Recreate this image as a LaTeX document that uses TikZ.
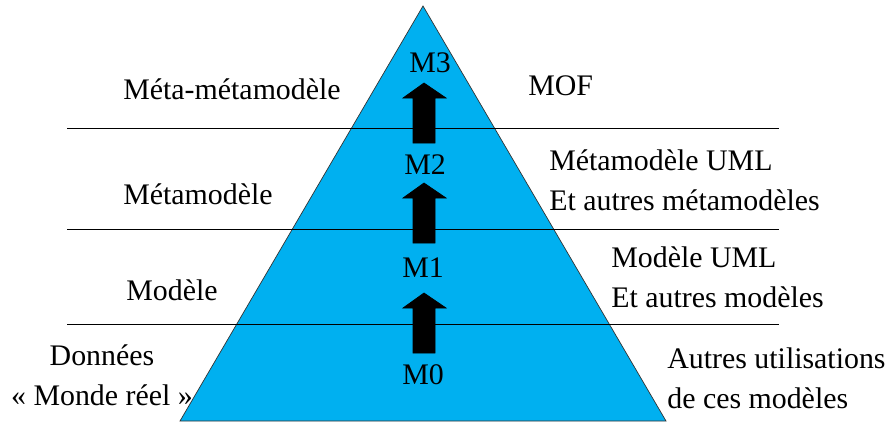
\documentclass[tikz,border=0pt]{standalone}
\usepackage{fontspec}
\setmainfont{Liberation Serif}
\usetikzlibrary{positioning}
\tikzstyle{pyramid} = [x = 0.02cm, y = -0.02cm]
\definecolor{levelColor}{RGB}{0,176,240}
\tikzstyle{levelFill} = [fill=levelColor, draw=black!80, thin]
\tikzstyle{levelLine} = [color=black, thin]
\tikzstyle{levelArrow} = [fill=black, draw=black]
\tikzstyle{levelText} = [font=\fontsize{17}{23}\selectfont, inner sep=0pt]
\tikzstyle{sideText} = [levelText, align=left, anchor=west]
\newcommand{\blockArrow}[1]{\filldraw [levelArrow] (424,#1) -- (446,#1 + 15) -- (435,#1 + 15) -- (435,#1 + 60) -- (413,#1 + 60) -- (413,#1 + 15) -- (403,#1 + 15) -- cycle;}
\newcommand{\levelLine}[1]{\draw [levelLine] (67,#1) -- (779,#1);}

\begin{document}
\begin{tikzpicture}[pyramid]
  \useasboundingbox (0,0) rectangle (891,423);
  \filldraw [levelFill] (423,6) -- (666,421) -- (180,421) -- cycle;
  \levelLine{128}
  \levelLine{229}
  \levelLine{324}
  \blockArrow{83}
  \blockArrow{183}
  \blockArrow{293}

  \node [levelText] (m3) at (430,63) {M3};
  \node [levelText] (m2) at (425,165) {M2};
  \node [levelText] (m1) at (423,268) {M1};
  \node [levelText] (m0) at (423,375) {M0};

  \node [levelText] (meta2) at (232,89) {Méta-métamodèle};
  \node [levelText] (meta1) at (198,194) {Métamodèle};
  \node [levelText] (model) at (172,290) {Modèle};
  \node [levelText, align=center] (data) at (102,375) {Données\\« Monde réel »};

  \node [sideText] (mof) at (528,86) {MOF};
  \node [sideText] (uml2) at (549,180) {Métamodèle UML\\Et autres métamodèles};
  \node [sideText] (uml1) at (611,277) {Modèle UML\\Et autres modèles};
  \node [sideText] (usage) at (667,378) {Autres utilisations\\de ces modèles};
\end{tikzpicture}
\end{document}
